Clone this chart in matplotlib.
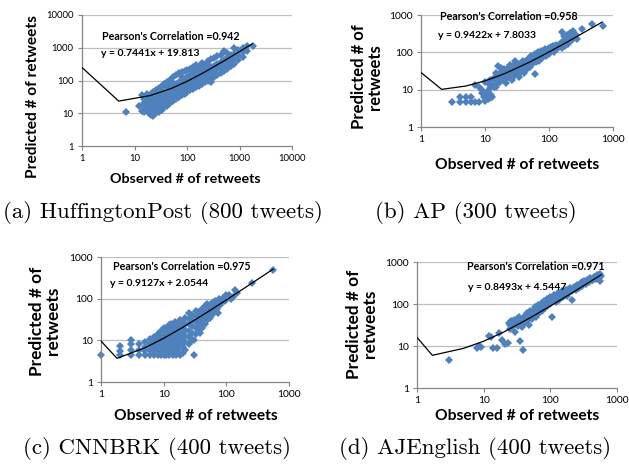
import matplotlib
matplotlib.use("Agg")
import matplotlib.pyplot as plt

# ---- data (observed, predicted) ----
obs_a = [7, 12, 14, 14, 15, 15, 15, 16, 17, 17, 17, 17, 19, 19, 19, 19, 21, 21, 21, 21, 21,
         23, 23, 23, 23, 23, 23, 26, 26, 26, 26, 26, 29, 29, 29, 29, 29, 29, 33, 33, 33, 33, 33, 33,
         37, 37, 37, 37, 37, 42, 42, 42, 42, 42, 42, 48, 48, 48, 48, 48, 48, 55, 55, 55, 55, 55, 55,
         62, 62, 62, 62, 62, 70, 70, 70, 70, 70, 80, 80, 80, 80, 80, 80, 90, 90, 90, 90, 90,
         100, 100, 100, 100, 100, 115, 115, 115, 115, 115, 130, 130, 130, 130, 130, 150, 150, 150, 150, 150,
         170, 170, 170, 170, 195, 195, 195, 195, 195, 220, 220, 220, 220, 250, 250, 250, 250, 250,
         288, 290, 290, 290, 290, 330, 330, 330, 330, 380, 380, 380, 380, 440, 440, 440, 440,
         500, 500, 500, 500, 570, 570, 570, 570, 680, 680, 680, 800, 800, 800, 800, 950, 950, 950,
         1150, 1150, 1150, 1400, 1400, 1800,
         16, 18, 20, 22, 24, 27, 31, 35, 40, 45, 52, 58, 66, 75, 85, 95, 110, 125, 140, 160]
pred_a = [11, 17, 35, 12, 11, 20, 28, 14, 12, 18, 25, 38, 10, 14, 22, 30, 9, 12, 16, 25, 40,
          8, 11, 15, 20, 28, 45, 10, 14, 19, 27, 50, 11, 16, 22, 30, 42, 60, 13, 18, 25, 34, 48, 66,
          15, 22, 30, 44, 78, 17, 24, 33, 45, 62, 90, 20, 28, 38, 52, 72, 105, 23, 32, 44, 60, 85, 125,
          27, 38, 55, 80, 145, 32, 45, 62, 90, 165, 36, 50, 70, 95, 130, 180, 40, 58, 80, 115, 200,
          45, 65, 90, 130, 210, 50, 72, 100, 145, 230, 55, 80, 115, 165, 250, 62, 90, 130, 190, 290,
          70, 105, 150, 250, 80, 115, 170, 240, 350, 90, 130, 190, 300, 100, 145, 210, 290, 400,
          87, 110, 170, 250, 460, 130, 190, 280, 500, 150, 220, 320, 560, 170, 250, 360, 620,
          200, 280, 420, 820, 220, 320, 480, 700, 280, 400, 600, 320, 460, 650, 1000, 420, 600, 850,
          520, 750, 1000, 800, 1100, 1150,
          18, 28, 20, 32, 16, 40, 30, 22, 30, 40, 36, 50, 58, 70, 90, 110, 130, 150, 170, 210]

obs_b = [3, 4, 4, 5, 5, 6, 6, 7, 8,
         7, 8, 9, 9, 9.5, 10, 10.5, 11, 11, 12, 12, 12.5, 13, 13, 11, 12, 10,
         14, 14, 15, 15, 16, 16, 17, 18, 18, 19, 20, 20,
         21, 22, 23, 24, 25, 25, 26, 27, 28, 29, 30, 30,
         32, 33, 34, 35, 36, 38, 40, 40, 42, 44, 45, 47, 48, 50, 50,
         52, 55, 57, 60, 60, 62, 65, 68, 70, 72, 75, 78, 80, 85, 88, 90, 95, 100, 100,
         110, 115, 120, 125, 130, 135, 140, 150, 158, 160, 170, 180, 190, 200,
         210, 230, 240, 250, 270, 330, 470, 700,
         15, 16, 17, 18, 19, 21, 22, 23, 24, 26, 27, 28, 30, 31, 32, 34, 35, 37, 38, 39,
         41, 43, 46, 49, 52, 55, 58, 63, 66, 70, 74, 82, 92, 105, 108, 118, 128, 145,
         165, 185, 215, 260]
pred_b = [4.7, 4.7, 6.5, 4.7, 6.5, 4.7, 6.5, 4.7, 4.7,
          13, 12, 8, 10, 6.5, 5, 7, 5.5, 9, 6, 11, 7, 6.5, 14, 15, 18, 16,
          12, 20, 18, 28, 44, 15, 22, 30, 18, 25, 35, 20,
          15, 28, 38, 22, 30, 45, 18, 35, 25, 60, 40, 28,
          33, 50, 22, 45, 30, 55, 38, 28, 48, 60, 35, 45, 70, 55, 40,
          80, 50, 65, 27, 90, 55, 75, 100, 60, 85, 95, 70, 110, 90, 120, 80, 105, 130, 90,
          115, 150, 100, 130, 160, 120, 145, 170, 340, 130, 280, 150, 300, 170,
          330, 220, 370, 260, 230, 420, 570, 500,
          12, 25, 16, 38, 20, 30, 20, 26, 40, 32, 22, 45, 35, 50, 26, 38, 30, 42, 32, 60,
          45, 36, 52, 48, 62, 75, 58, 85, 70, 90, 110, 100, 115, 120, 140, 135, 150, 160,
          200, 230, 250, 300]

obs_c = [1, 2, 2, 2, 3, 3, 3, 3, 4, 4, 4, 5, 5, 5, 5, 6, 6, 6, 6, 7, 7, 7, 7, 7,
         8, 8, 8, 8, 8, 9, 9, 9, 9, 9, 9, 10, 10, 10, 10, 10, 10, 11, 11, 11, 11, 11, 11, 11,
         12, 12, 12, 12, 12, 12, 12, 13, 13, 13, 13, 13, 14, 14, 14, 14, 14, 15, 15, 15, 15, 15,
         16, 16, 16, 16, 16, 17, 17, 17, 17, 17, 18, 18, 18, 18, 18, 18, 20, 20, 20, 20, 20, 20,
         22, 22, 22, 22, 22, 22, 25, 25, 25, 25, 25, 25, 28, 28, 28, 28, 28, 31, 31,
         33, 33, 33, 33, 33, 36, 36, 36, 36, 38, 38, 38, 38, 41, 41, 41, 41, 45, 45, 45, 45, 50, 50, 50, 50,
         55, 55, 55, 60, 60, 60, 65, 65, 65, 70, 70, 73, 75, 80, 80, 85, 90, 95, 100,
         110, 120, 128, 140, 147, 260, 560]
pred_c = [4.5, 4.5, 5.5, 7.5, 4.5, 6, 8, 10, 4.5, 6, 8, 4.5, 5.5, 7, 9, 4.5, 6, 8, 11, 4.5, 5.5, 7, 9, 12,
          4.5, 6, 8, 10, 14, 4.5, 5.5, 7, 9, 12, 17, 4.5, 6, 8, 10, 13, 20, 4.5, 5.5, 7, 9, 11, 15, 19,
          4.5, 6, 8, 10, 13, 17, 23, 5, 7, 12, 16, 25, 4.5, 6, 9, 14, 20, 5.5, 8, 11, 17, 27,
          4.5, 7, 10, 14, 22, 6, 9, 12, 18, 25, 4.5, 8, 11, 15, 22, 30, 5, 7, 10, 14, 20, 28,
          6, 9, 13, 18, 25, 35, 8, 12, 17, 24, 33, 45, 10, 15, 22, 30, 40, 4.5, 10,
          14, 20, 28, 38, 50, 18, 25, 35, 48, 15, 22, 30, 42, 20, 28, 38, 55, 25, 35, 48, 65, 30, 42, 55, 75,
          35, 50, 70, 40, 55, 80, 50, 65, 90, 55, 80, 45, 100, 70, 95, 85, 105, 90, 120,
          120, 100, 110, 160, 135, 240, 500]

obs_d = [3, 8, 8.5, 9, 12, 13, 14, 16, 17, 19, 21, 23, 24, 26, 25, 28, 30, 30, 32, 33, 35, 36,
         38, 39, 40, 42, 45, 45, 48, 50, 50, 53, 55, 58, 60, 62, 65, 68, 70, 72, 75, 78, 80, 82,
         85, 88, 90, 95, 100, 100, 106, 110, 115, 120, 125, 130, 135, 140, 150, 155, 160, 170,
         175, 185, 200, 210, 210, 225, 240, 250, 270, 290, 300, 320, 340, 360, 380, 400, 420,
         435, 450, 480, 500, 520, 550, 560, 580,
         25, 27, 29, 31, 34, 37, 40, 43, 44, 47, 49, 52, 54, 56, 59, 63, 66, 69, 73, 76, 79,
         84, 87, 92, 97, 104, 112, 118, 126, 133, 145, 158, 165, 180, 195, 230, 260, 310,
         350, 390, 440, 470, 530, 540, 300]
pred_d = [4.6, 9, 10, 9.5, 17, 16, 9, 9, 20, 14, 11, 12, 35, 40, 25, 30, 22, 38, 45, 30, 13, 40,
          28, 8, 50, 35, 45, 60, 32, 55, 70, 45, 65, 85, 50, 70, 95, 60, 80, 100, 70, 95, 115, 80,
          100, 130, 90, 115, 145, 100, 49, 120, 160, 110, 140, 180, 125, 165, 200, 145, 175, 220,
          155, 195, 240, 125, 200, 260, 210, 290, 240, 320, 270, 350, 300, 380, 330, 420, 370,
          370, 450, 400, 480, 430, 360, 520, 460,
          32, 28, 42, 35, 48, 35, 42, 55, 40, 52, 62, 58, 48, 72, 62, 80, 75, 88, 78, 105, 85,
          110, 95, 125, 108, 130, 140, 125, 160, 150, 175, 190, 160, 220, 205, 230, 270, 300,
          340, 370, 400, 450, 480, 410, 330]

# trend lines as drawn (x, y)
trend_a_x = [1, 5, 20, 50, 100, 200, 500, 1000, 1750]
trend_a_y = [250, 23.5, 34.7, 57, 94, 169, 392, 764, 1322]
trend_b_x = [1, 2.1, 5, 10, 20, 50, 100, 200, 680]
trend_b_y = [28.8, 10.2, 12.5, 17.2, 26.6, 54.9, 102, 196, 648]
trend_c_x = [1, 1.8, 5, 10, 20, 50, 100, 200, 560]
trend_c_y = [9.6, 3.7, 6.6, 11.2, 20.3, 47.7, 93.3, 184.6, 513]
trend_d_x = [1, 1.7, 5, 10, 20, 50, 100, 200, 580]
trend_d_y = [16, 6.0, 8.8, 13, 21.5, 47, 89.5, 174, 497]

ticks_a = [1, 10, 100, 1000, 10000]
ticks_bcd = [1, 10, 100, 1000]

pearson = ["Pearson's Correlation =0.942", "Pearson's Correlation =0.958",
           "Pearson's Correlation =0.975", "Pearson's Correlation =0.971"]
equations = ["y = 0.7441x + 19.813", "y = 0.9422x + 7.8033",
             "y = 0.9127x + 2.0544", "y = 0.8493x + 4.5447"]
captions = ["(a) HuffingtonPost (800 tweets)", "(b) AP (300 tweets)",
            "(c) CNNBRK (400 tweets)", "(d) AJEnglish (400 tweets)"]
xlabel = "Observed # of retweets"
ylabels = ["Predicted # of retweets", "Predicted # of\nretweets",
           "Predicted # of\nretweets", "Predicted # of\nretweets"]

W, H = 629, 466
BLUE = '#4f81bd'
GRID = '#bfbfbf'
AXC = '#868686'
SANS = ['Lato', 'DejaVu Sans']

fig = plt.figure(figsize=(W / 100, H / 100), dpi=100)
renderer = fig.canvas.get_renderer()


def px(x, y):
    return x / W, 1 - y / H


def fit_text(x, y, s, length, **kw):
    t = fig.text(*px(x, y), s, **kw)
    bb = t.get_window_extent(renderer)
    w = bb.height if kw.get('rotation') == 90 else bb.width
    t.set_fontsize(t.get_fontsize() * length / w)
    return t


# axes boxes in pixels: left, top, right, bottom
boxes = [(82, 15, 292, 146), (421, 15, 613, 127), (101, 257, 289, 382), (417, 262, 617, 388)]
data = [(obs_a, pred_a, trend_a_x, trend_a_y, ticks_a),
        (obs_b, pred_b, trend_b_x, trend_b_y, ticks_bcd),
        (obs_c, pred_c, trend_c_x, trend_c_y, ticks_bcd),
        (obs_d, pred_d, trend_d_x, trend_d_y, ticks_bcd)]
tick_fs = [6.8, 7.4, 7.4, 7.4]

for i, ((l, t, r, b), (ox, oy, tx, ty, tk)) in enumerate(zip(boxes, data)):
    ax = fig.add_axes([l / W, 1 - b / H, (r - l) / W, (b - t) / H])
    ax.set_xscale('log')
    ax.set_yscale('log')
    ax.set_xlim(tk[0], tk[-1])
    ax.set_ylim(tk[0], tk[-1])
    ax.set_xticks(tk, [str(v) for v in tk])
    ax.set_yticks(tk, [str(v) for v in tk])
    ax.minorticks_off()
    for v in tk[1:]:
        ax.axhline(v, color=GRID, lw=0.9, zorder=0)
    for s in ['top', 'right']:
        ax.spines[s].set_visible(False)
    for s in ['left', 'bottom']:
        ax.spines[s].set_color(AXC)
        ax.spines[s].set_linewidth(0.9)
    ax.tick_params(length=3, width=0.8, color=AXC, labelsize=tick_fs[i], pad=3)
    for lab in ax.get_xticklabels() + ax.get_yticklabels():
        lab.set_family(SANS)
    ax.plot(ox, oy, ls='none', marker='D', ms=4.0, mew=0, color=BLUE, clip_on=False, zorder=2)
    ax.plot(tx, ty, color='black', lw=0.9, zorder=3)

# annotations: (x_left, y_center)
pear_pos = [(102, 37), (440, 16), (113, 266), (467, 267)]
eq_pos = [(101, 54), (438, 36), (110, 284), (468, 288)]
for i in range(4):
    fit_text(*pear_pos[i], pearson[i], 138, family=SANS, weight='bold', ha='left', va='center')
    fit_text(*eq_pos[i], equations[i], 98, family=SANS, weight='bold', ha='left', va='center')

# axis titles
xl_pos = [(185, 179, 151), (517, 165, 166), (196, 416, 165), (517, 416, 166)]
yl_pos = [(33, 97, 164), (367, 77, 105), (45, 321, 109), (362, 324, 109)]
for i in range(4):
    x, y, w = xl_pos[i]
    fit_text(x, y, xlabel, w, family=SANS, weight='bold', ha='center', va='center')
    x, y, w = yl_pos[i]
    fit_text(x, y, ylabels[i], w, family=SANS, weight='bold', ha='center', va='center',
             rotation=90, linespacing=1.0, multialignment='center')

# sub-captions
cap_pos = [(163, 213), (476, 213), (157, 449), (475, 449)]
for i in range(4):
    fig.text(*px(*cap_pos[i]), captions[i], family='cmr10', fontsize=16.5,
             ha='center', va='center')

fig.savefig('out.png', dpi=100)
